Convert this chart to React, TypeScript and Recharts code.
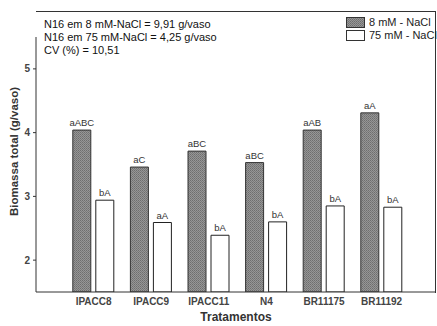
import React from 'react';
import { BarChart, Bar, XAxis, YAxis, Legend, LabelList } from 'recharts';

const categories = ['IPACC8', 'IPACC9', 'IPACC11', 'N4', 'BR11175', 'BR11192'];
const salt8 = [4.04, 3.46, 3.71, 3.53, 4.04, 4.31];
const salt75 = [2.94, 2.59, 2.39, 2.6, 2.85, 2.83];
const letters8 = ['aABC', 'aC', 'aBC', 'aBC', 'aAB', 'aA'];
const letters75 = ['bA', 'aA', 'bA', 'bA', 'bA', 'bA'];
const yTicks = [2, 3, 4, 5];
const seriesNames = ['8 mM - NaCl', '75 mM - NaCl'];
const notes = ['N16 em 8 mM-NaCl = 9,91 g/vaso', 'N16 em 75 mM-NaCl = 4,25 g/vaso', 'CV (%) = 10,51'];

const data = categories.map((name, i) => ({
  name,
  s8: salt8[i],
  s75: salt75[i],
  l8: letters8[i],
  l75: letters75[i],
}));

const FONT = '"Liberation Sans", Arial, sans-serif';

const LegendContent = () => (
  <div style={{ fontFamily: FONT, fontSize: 11, color: '#222', lineHeight: '13px', whiteSpace: 'nowrap' }}>
    {seriesNames.map((n, i) => (
      <div key={n} style={{ display: 'flex', alignItems: 'center', height: 13 }}>
        <svg width={19} height={11} style={{ marginRight: 4, flex: 'none' }}>
          <rect x={0.5} y={0.5} width={18} height={10} fill={i === 0 ? 'url(#dotsPat)' : '#fff'} stroke="#333" />
        </svg>
        <span>{n}</span>
      </div>
    ))}
  </div>
);

export default function App() {
  return (
    <div style={{ position: 'absolute', left: 0, top: 0, width: 437, height: 326, background: '#fff', overflow: 'hidden' }}>
      <svg width={0} height={0} style={{ position: 'absolute' }}>
        <defs>
          <pattern id="dotsPat" width={2} height={2} patternUnits="userSpaceOnUse">
            <rect width={2} height={2} fill="#969696" />
            <rect width={1} height={1} fill="#6e6e6e" />
            <rect x={1} y={1} width={1} height={1} fill="#7a7a7a" />
          </pattern>
        </defs>
      </svg>
      <div
        style={{
          position: 'absolute',
          left: 36,
          top: 10.5,
          width: 399,
          height: 281,
          borderTop: '1px solid #333',
          borderRight: '1px solid #333',
          pointerEvents: 'none',
        }}
      />
      <BarChart
        width={437}
        height={326}
        data={data}
        margin={{ top: 11, right: 1, bottom: 0, left: 0 }}
        barSize={18}
        barGap={5}
      >
        <XAxis
          dataKey="name"
          height={34}
          padding={{ left: 28.8, right: 25.6 }}
          tickLine={false}
          tickSize={3}
          tickMargin={3}
          axisLine={{ stroke: '#333' }}
          tick={{ fill: '#444', fontSize: 10, fontWeight: 'bold', fontFamily: FONT }}
          label={{
            value: 'Tratamentos',
            position: 'insideBottom',
            offset: 5.5,
            style: { fill: '#333', fontSize: 12, fontWeight: 'bold', fontFamily: FONT },
          }}
        />
        <YAxis
          width={36}
          domain={[1.5, 5.5]}
          ticks={yTicks}
          allowDataOverflow
          tickSize={3}
          tickMargin={3}
          axisLine={{ stroke: '#333' }}
          tickLine={{ stroke: '#333' }}
          tick={{ fill: '#444', fontSize: 10, fontWeight: 'bold', fontFamily: FONT }}
          label={{
            content: () => (
              <text
                x={14}
                y={151.5}
                transform="rotate(-90, 14, 151.5)"
                textAnchor="middle"
                dominantBaseline="central"
                fill="#333"
                fontSize={11.5}
                fontWeight="bold"
                fontFamily={FONT}
              >
                Biomassa total (g/vaso)
              </text>
            ),
          }}
        />
        <Legend
          verticalAlign="top"
          align="right"
          content={<LegendContent />}
          wrapperStyle={{ position: 'absolute', left: 346, top: 16, width: 91 }}
        />
        <Bar dataKey="s8" name={seriesNames[0]} fill="url(#dotsPat)" stroke="#333" strokeWidth={1} isAnimationActive={false}>
          <LabelList dataKey="l8" position="top" offset={4} style={{ fill: '#333', fontSize: 9.5, fontFamily: FONT }} />
        </Bar>
        <Bar dataKey="s75" name={seriesNames[1]} fill="#fff" stroke="#222" strokeWidth={1} isAnimationActive={false}>
          <LabelList dataKey="l75" position="top" offset={4} style={{ fill: '#333', fontSize: 9.5, fontFamily: FONT }} />
        </Bar>
      </BarChart>
      <div
        style={{
          position: 'absolute',
          left: 44,
          top: 17.5,
          fontFamily: FONT,
          fontSize: 11,
          lineHeight: '13px',
          color: '#111',
          whiteSpace: 'nowrap',
        }}
      >
        {notes.map((t) => (
          <div key={t}>{t}</div>
        ))}
      </div>
    </div>
  );
}
